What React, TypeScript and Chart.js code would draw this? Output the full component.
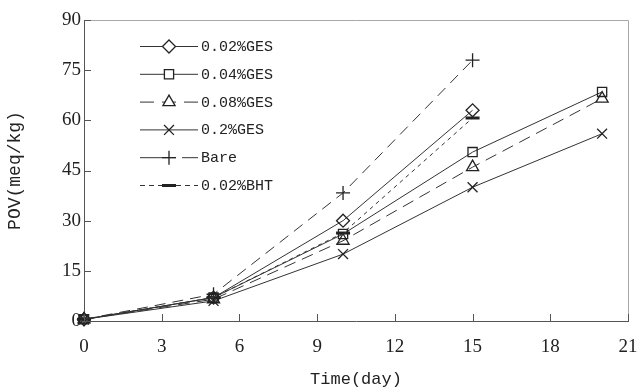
import React, { useEffect, useRef } from "react";
import { Chart, registerables } from "chart.js";
import { drawPoint } from "chart.js/helpers";

Chart.register(...registerables);

const days = [0, 5, 10, 15, 20];
const seriesNames = ["0.02%GES", "0.04%GES", "0.08%GES", "0.2%GES", "Bare", "0.02%BHT"];
const ges002 = [0.5, 7, 30, 63];
const ges004 = [0.5, 7, 26, 50.5, 68.5];
const ges008 = [0.5, 6.5, 24, 46, 66.5];
const ges02 = [0.5, 6, 20, 40, 56];
const bare = [0.5, 8, 38.3, 78];
const bht = [0.5, 7, 26.3, 60.7];
const xTicks = [0, 3, 6, 9, 12, 15, 18, 21];
const yTicks = [0, 15, 30, 45, 60, 75, 90];

const INK = "#222";
const MONO = "'Liberation Mono', 'DejaVu Sans Mono', monospace";
const SERIF = "'Liberation Serif', 'DejaVu Serif', serif";

const toPoints = (vals: number[]) => vals.map((v, i) => ({ x: days[i], y: v }));

const innerTicksPlugin = {
  id: "innerTicks",
  afterDatasetsDraw(chart: any) {
    const { ctx, chartArea, scales } = chart;
    ctx.save();
    ctx.strokeStyle = "#a8a8a8";
    ctx.lineWidth = 1;
    ctx.beginPath();
    ctx.moveTo(chartArea.left, chartArea.top + 0.5);
    ctx.lineTo(chartArea.right + 0.5, chartArea.top + 0.5);
    ctx.lineTo(chartArea.right + 0.5, chartArea.bottom);
    ctx.stroke();
    ctx.strokeStyle = "#555";
    ctx.beginPath();
    xTicks.forEach((t) => {
      const px = Math.round(scales.x.getPixelForValue(t)) + 0.5;
      ctx.moveTo(px, chartArea.bottom);
      ctx.lineTo(px, chartArea.bottom - 7);
    });
    yTicks.forEach((t) => {
      const py = Math.round(scales.y.getPixelForValue(t)) + 0.5;
      ctx.moveTo(chartArea.left, py);
      ctx.lineTo(chartArea.left + 7, py);
    });
    ctx.stroke();
    ctx.restore();
  },
};

const legendPlugin = {
  id: "boxLegend",
  afterDraw(chart: any) {
    const ctx = chart.ctx;
    const o = chart.options.plugins.boxLegend;
    chart.data.datasets.forEach((ds: any, i: number) => {
      const y = o.top + i * o.row;
      ctx.save();
      ctx.strokeStyle = ds.borderColor;
      ctx.lineWidth = 1;
      ctx.setLineDash(ds.legendDash || []);
      ctx.beginPath();
      ctx.moveTo(o.left, y + 0.5);
      ctx.lineTo(o.left + o.len, y + 0.5);
      ctx.stroke();
      ctx.setLineDash([]);
      ctx.strokeStyle = ds.pointBorderColor;
      ctx.fillStyle = "#fff";
      ctx.lineWidth = ds.pointBorderWidth;
      drawPoint(
        ctx,
        { pointStyle: ds.pointStyle, radius: ds.pointRadius, borderWidth: ds.pointBorderWidth, rotation: 0 } as any,
        o.left + o.len / 2,
        y + 0.5
      );
      ctx.fillStyle = INK;
      ctx.font = `15px ${MONO}`;
      ctx.textBaseline = "middle";
      ctx.textAlign = "left";
      ctx.fillText(ds.label, o.left + o.len + 3, y + 1);
      ctx.restore();
    });
  },
};

export default function App() {
  const ref = useRef<HTMLCanvasElement | null>(null);
  useEffect(() => {
    document.body.style.margin = "0";
    if (!ref.current) return;
    const common = {
      borderColor: "#333",
      borderWidth: 1,
      pointBorderColor: "#222",
      pointBackgroundColor: "rgba(255,255,255,0)",
      pointBorderWidth: 1.3,
      clip: false,
      fill: false,
      tension: 0,
    };
    const chart = new Chart(ref.current, {
      type: "line",
      data: {
        datasets: [
          { ...common, label: seriesNames[0], data: toPoints(ges002), pointStyle: "rectRot", pointRadius: 6.5 },
          { ...common, label: seriesNames[1], data: toPoints(ges004), pointStyle: "rect", pointRadius: 6.5 },
          { ...common, label: seriesNames[2], data: toPoints(ges008), pointStyle: "triangle", pointRadius: 7, borderDash: [12, 7], legendDash: [14, 8] },
          { ...common, label: seriesNames[3], data: toPoints(ges02), pointStyle: "crossRot", pointRadius: 7 },
          { ...common, label: seriesNames[4], data: toPoints(bare), pointStyle: "cross", pointRadius: 7, borderDash: [11, 7], legendDash: [36, 6] },
          { ...common, label: seriesNames[5], data: toPoints(bht), pointStyle: "line", pointRadius: 7, pointBorderWidth: 3, borderDash: [4, 4], legendDash: [5, 4] },
        ] as any,
      },
      options: {
        animation: false,
        responsive: false,
        events: [],
        layout: { padding: { left: 0, right: 12, top: 20, bottom: 0 } },
        plugins: {
          legend: { display: false },
          tooltip: { enabled: false },
          boxLegend: { left: 140, len: 58, top: 46, row: 27.8 },
        } as any,
        scales: {
          x: {
            type: "linear",
            min: 0,
            max: 21,
            afterFit: (s: any) => { s.height = 71; s.paddingRight = 0; s.paddingLeft = 0; },
            afterBuildTicks: (s: any) => { s.ticks = xTicks.map((v) => ({ value: v })); },
            ticks: { color: INK, font: { family: SERIF, size: 19 }, padding: 15, maxRotation: 0 },
            grid: { display: false, drawTicks: false },
            border: { display: true, color: "#555", width: 1 },
            title: { display: true, text: "Time(day)", color: INK, font: { family: MONO, size: 17 }, padding: { top: 4, bottom: 2 } },
          },
          y: {
            min: 0,
            max: 90,
            afterFit: (s: any) => { s.width = 84; s.paddingTop = 0; s.paddingBottom = 0; },
            afterBuildTicks: (s: any) => { s.ticks = yTicks.map((v) => ({ value: v })); },
            ticks: { color: INK, font: { family: SERIF, size: 19 }, padding: 3 },
            grid: { display: false, drawTicks: false },
            border: { display: true, color: "#555", width: 1 },
            title: { display: true, text: "POV(meq/kg)", color: INK, font: { family: MONO, size: 18 }, padding: { top: 4, bottom: 4 } },
          },
        },
      } as any,
      plugins: [innerTicksPlugin, legendPlugin],
    });
    return () => chart.destroy();
  }, []);
  return (
    <div style={{ width: 640, height: 392, background: "#fff" }}>
      <canvas ref={ref} width={640} height={392} />
    </div>
  );
}
